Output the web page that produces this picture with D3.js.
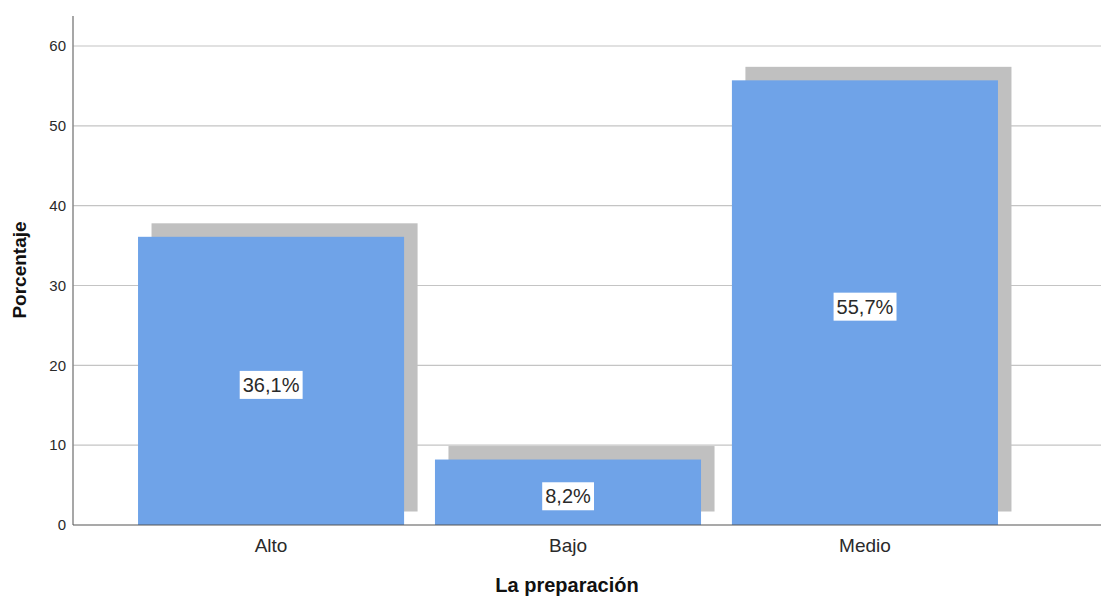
<!DOCTYPE html>
<html>
<head>
<meta charset="utf-8">
<script src="https://cdn.jsdelivr.net/npm/d3@7"></script>
<style>
  html, body { margin: 0; padding: 0; background: #fff; }
  svg { display: block; font-family: "Liberation Sans", Arial, sans-serif; }
</style>
</head>
<body>
<svg id="chart" width="1103" height="601"></svg>
<script>
// Categories and percentages
const categories = ["Alto", "Bajo", "Medio"];
const percentages = [36.1, 8.2, 55.7];
const valueLabels = ["36,1%", "8,2%", "55,7%"];
const yTicks = [0, 10, 20, 30, 40, 50, 60];
const xTitle = "La preparación";
const yTitle = "Porcentaje";

const svg = d3.select("#chart");
const plotLeft = 73, plotRight = 1101, plotTop = 16, plotBottom = 525;

const y = d3.scaleLinear().domain([0, 60]).range([plotBottom, 46]);
const x = d3.scaleBand().domain(categories).range([plotLeft, 1063])
  .paddingInner(0.104).paddingOuter(0.219);

// Horizontal gridlines
svg.append("g").selectAll("line").data(yTicks.filter(d => d > 0)).join("line")
  .attr("x1", plotLeft).attr("x2", plotRight)
  .attr("y1", d => y(d)).attr("y2", d => y(d))
  .attr("stroke", "#c4c4c4").attr("stroke-width", 1.2);

// Y axis
const yAxis = d3.axisLeft(y).tickValues(yTicks).tickSize(0).tickPadding(7);
const gy = svg.append("g").attr("transform", `translate(${plotLeft},0)`).call(yAxis);
gy.select(".domain").remove();
gy.selectAll("text").attr("font-size", 15).attr("fill", "#2a2a2a")
  .attr("font-family", "'Liberation Sans', Arial, sans-serif");
svg.append("line").attr("x1", plotLeft).attr("x2", plotLeft).attr("y1", plotTop).attr("y2", plotBottom)
  .attr("stroke", "#8a8a8a").attr("stroke-width", 1.5);

// Drop shadows behind the bars
const off = 13.5;
const data = categories.map((c, i) => ({ c, v: percentages[i], label: valueLabels[i] }));
svg.append("g").selectAll("rect").data(data).join("rect")
  .attr("x", d => x(d.c) + off)
  .attr("y", d => y(d.v) - off)
  .attr("width", x.bandwidth())
  .attr("height", d => y(0) - y(d.v))
  .attr("fill", "#c0c0c0");

// Bars
svg.append("g").selectAll("rect").data(data).join("rect")
  .attr("x", d => x(d.c))
  .attr("y", d => y(d.v))
  .attr("width", x.bandwidth())
  .attr("height", d => y(0) - y(d.v))
  .attr("fill", "#6fa3e8");

// X axis baseline
svg.append("line").attr("x1", plotLeft).attr("x2", plotRight).attr("y1", plotBottom).attr("y2", plotBottom)
  .attr("stroke", "#555").attr("stroke-width", 1.2);

// Category labels
const xAxis = d3.axisBottom(x).tickSize(0).tickPadding(14);
const gx = svg.append("g").attr("transform", `translate(0,${plotBottom})`).call(xAxis);
gx.select(".domain").remove();
gx.selectAll("text").attr("font-size", 19).attr("fill", "#2a2a2a")
  .attr("font-family", "'Liberation Sans', Arial, sans-serif");

// Value labels in white boxes
const lbl = svg.append("g").selectAll("g").data(data).join("g")
  .attr("transform", d => `translate(${x(d.c) + x.bandwidth() / 2},${(y(d.v) + y(0)) / 2 + 4})`);
lbl.append("text")
  .attr("text-anchor", "middle").attr("dy", "0.35em")
  .attr("font-size", 20).attr("fill", "#2a2a2a")
  .text(d => d.label);
lbl.each(function () {
  const g = d3.select(this);
  const b = g.select("text").node().getBBox();
  g.insert("rect", "text")
    .attr("x", b.x - 3).attr("y", -14)
    .attr("width", b.width + 6).attr("height", 28)
    .attr("fill", "#fff");
});

// Axis titles
svg.append("text").attr("x", 567).attr("y", 592).attr("text-anchor", "middle")
  .attr("font-size", 20).attr("font-weight", "bold").attr("fill", "#111").text(xTitle);
svg.append("text").attr("transform", "translate(26,270) rotate(-90)")
  .attr("text-anchor", "middle")
  .attr("font-size", 19).attr("font-weight", "bold").attr("fill", "#111").text(yTitle);
</script>
</body>
</html>
